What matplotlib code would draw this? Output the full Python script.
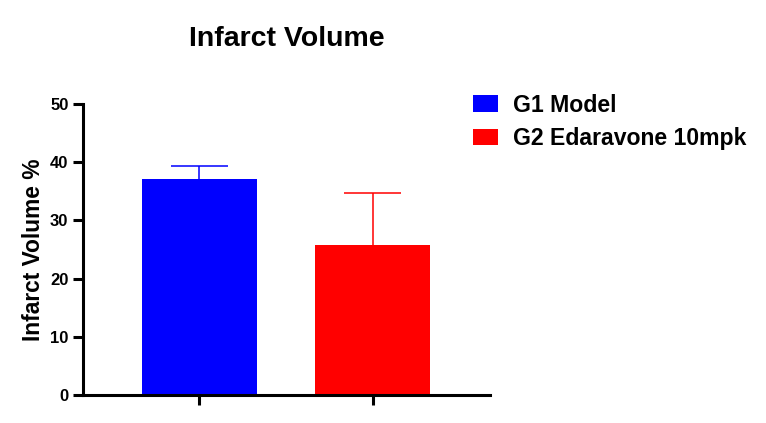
import matplotlib
matplotlib.use("Agg")
import matplotlib.pyplot as plt
from matplotlib.patches import Patch

groups = ["G1 Model", "G2 Edaravone 10mpk"]
means = [37.1, 25.8]
sd_upper = [2.3, 8.9]
colors = ["#0000ff", "#ff0000"]
yticks = [0, 10, 20, 30, 40, 50]

plt.rcParams['font.family'] = ['Liberation Sans', 'DejaVu Sans']
plt.rcParams['font.weight'] = 'bold'

fig = plt.figure(figsize=(7.66, 4.23), dpi=100)
ax = fig.add_axes([0.1084, 0.0662, 0.5313, 0.6878])

bar_w = 0.665
x = list(range(len(groups)))
ax.bar(x, means, width=bar_w, color=colors, zorder=2)
for xi, m, e, c in zip(x, means, sd_upper, colors):
    ax.vlines(xi, m, m + e, color=c, linewidth=1.1, zorder=1)
    ax.hlines(m + e, xi - bar_w / 4, xi + bar_w / 4, color=c, linewidth=1.1, zorder=1)

ax.set_xlim(-0.673, 1.679)
ax.set_ylim(0, 50)
ax.set_yticks(yticks)
ax.set_xticks(x)
ax.set_xticklabels([])
ax.spines['top'].set_visible(False)
ax.spines['right'].set_visible(False)
for s in ['left', 'bottom']:
    ax.spines[s].set_linewidth(2.2)
ax.tick_params(axis='both', length=7, width=2.2, labelsize=12)
for lab in ax.get_yticklabels():
    lab.set_fontweight('bold')
ax.set_ylabel("Infarct Volume %", fontsize=16.4, fontweight='bold', labelpad=4)
ax.set_title("Infarct Volume", fontsize=20.5, fontweight='bold', pad=42)

handles = [Patch(facecolor=c, edgecolor='none') for c in colors]
fig.legend(handles, groups, loc='upper left', bbox_to_anchor=(0.5906, 0.828),
           frameon=False, prop={'size': 16.6, 'weight': 'bold'},
           handlelength=1.09, handleheight=0.7, handletextpad=0.62,
           labelspacing=0.45)

fig.savefig("out.png", dpi=100)
